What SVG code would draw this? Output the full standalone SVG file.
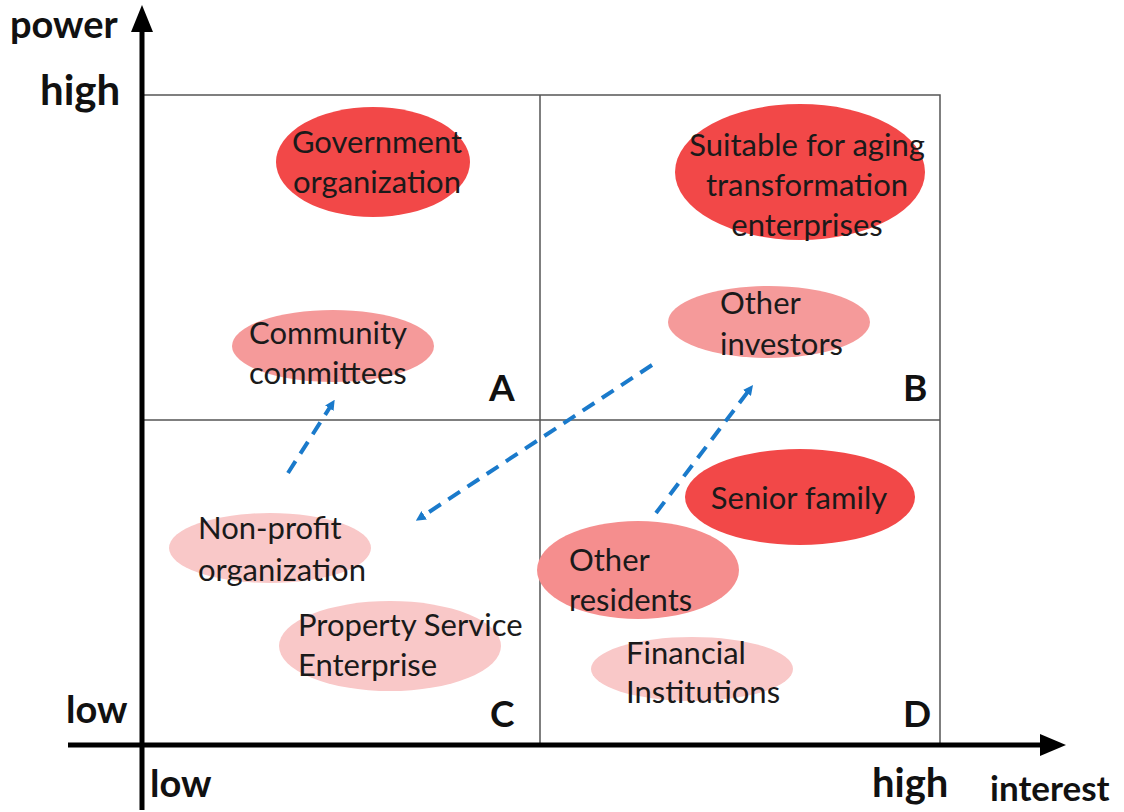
<svg xmlns="http://www.w3.org/2000/svg" width="1124" height="812" viewBox="0 0 1124 812">
<defs>
<marker id="ah" markerWidth="10" markerHeight="10" refX="5" refY="5" orient="auto" markerUnits="userSpaceOnUse" viewBox="0 0 10 10">
<path d="M0,0 L10,5 L0,10 Z" fill="#1a7acb"/>
</marker>
<style>
.ax{stroke:#000;stroke-width:5;fill:none}
.grid{stroke:#555;stroke-width:1.5;fill:none}
.lbl{font-family:Lato,"Liberation Sans",sans-serif;font-weight:bold;fill:#111}
.t{font-family:Lato,"Liberation Sans",sans-serif;font-size:31px;fill:#1a1a1a}
.dark{fill:#f24848}
.mid{fill:#f59a9a}
.light{fill:#f9c8c8}
.con{stroke:#1a7acb;stroke-width:4;stroke-dasharray:14 9;fill:none}
</style>
</defs>
<rect width="1124" height="812" fill="#fff"/>
<g id="grid">
<rect class="grid" x="142" y="95" width="798" height="650"/>
<line class="grid" x1="540" y1="95" x2="540" y2="745"/>
<line class="grid" x1="142" y1="420" x2="940" y2="420"/>
</g>
<g id="axes">
<line class="ax" x1="142" y1="810" x2="142" y2="28"/>
<path d="M142,5 L131,32 L153,32 Z" fill="#000"/>
<line class="ax" x1="68" y1="745" x2="1042" y2="745"/>
<path d="M1066,745 L1040,734 L1040,756 Z" fill="#000"/>
<text class="lbl" x="10" y="38" font-size="38">power</text>
<text class="lbl" x="40" y="105" font-size="42">high</text>
<text class="lbl" x="66" y="723" font-size="38">low</text>
<text class="lbl" x="150" y="797" font-size="38">low</text>
<text class="lbl" x="872" y="797" font-size="40">high</text>
<text class="lbl" x="990" y="801" font-size="35">interest</text>
<text class="lbl" x="489" y="401" font-size="37">A</text>
<text class="lbl" x="903" y="401" font-size="37">B</text>
<text class="lbl" x="490" y="727" font-size="37">C</text>
<text class="lbl" x="903" y="727" font-size="37">D</text>
</g>
<g id="gov">
<ellipse class="dark" cx="373" cy="162" rx="97" ry="55"/>
<text class="t" x="377" y="153" text-anchor="middle">Government</text>
<text class="t" x="377" y="193" text-anchor="middle">organization</text>
</g>
<g id="aging">
<ellipse class="dark" cx="800" cy="172" rx="125" ry="68"/>
<text class="t" x="807" y="156" text-anchor="middle">Suitable for aging</text>
<text class="t" x="807" y="196" text-anchor="middle">transformation</text>
<text class="t" x="807" y="236" text-anchor="middle">enterprises</text>
</g>
<g id="community">
<ellipse class="mid" cx="333" cy="346" rx="101" ry="36"/>
<text class="t" x="249" y="344">Community</text>
<text class="t" x="249" y="384">committees</text>
</g>
<g id="investors">
<ellipse class="mid" cx="769" cy="322" rx="101" ry="36"/>
<text class="t" x="720" y="314">Other</text>
<text class="t" x="720" y="355">investors</text>
</g>
<g id="senior">
<ellipse class="dark" cx="800" cy="497" rx="115" ry="48"/>
<text class="t" x="799" y="509" text-anchor="middle">Senior family</text>
</g>
<g id="residents">
<ellipse fill="#f58e8e" cx="638" cy="570" rx="101" ry="49"/>
<text class="t" x="569" y="571">Other</text>
<text class="t" x="569" y="611">residents</text>
</g>
<g id="financial">
<ellipse class="light" cx="692" cy="669" rx="101" ry="32"/>
<text class="t" x="626" y="664">Financial</text>
<text class="t" x="626" y="703">Institutions</text>
</g>
<g id="nonprofit">
<ellipse class="light" cx="270" cy="548" rx="101" ry="35"/>
<text class="t" x="198" y="539">Non-profit</text>
<text class="t" x="198" y="581">organization</text>
</g>
<g id="property">
<ellipse class="light" cx="390" cy="646" rx="111" ry="45"/>
<text class="t" x="298" y="636">Property Service</text>
<text class="t" x="298" y="676">Enterprise</text>
</g>
<g id="connectors">
<line class="con" x1="288" y1="473" x2="332" y2="404" marker-end="url(#ah)"/>
<line class="con" x1="652" y1="365" x2="420" y2="518" marker-end="url(#ah)"/>
<line class="con" x1="656" y1="513" x2="750" y2="389" marker-end="url(#ah)"/>
</g>
</svg>
